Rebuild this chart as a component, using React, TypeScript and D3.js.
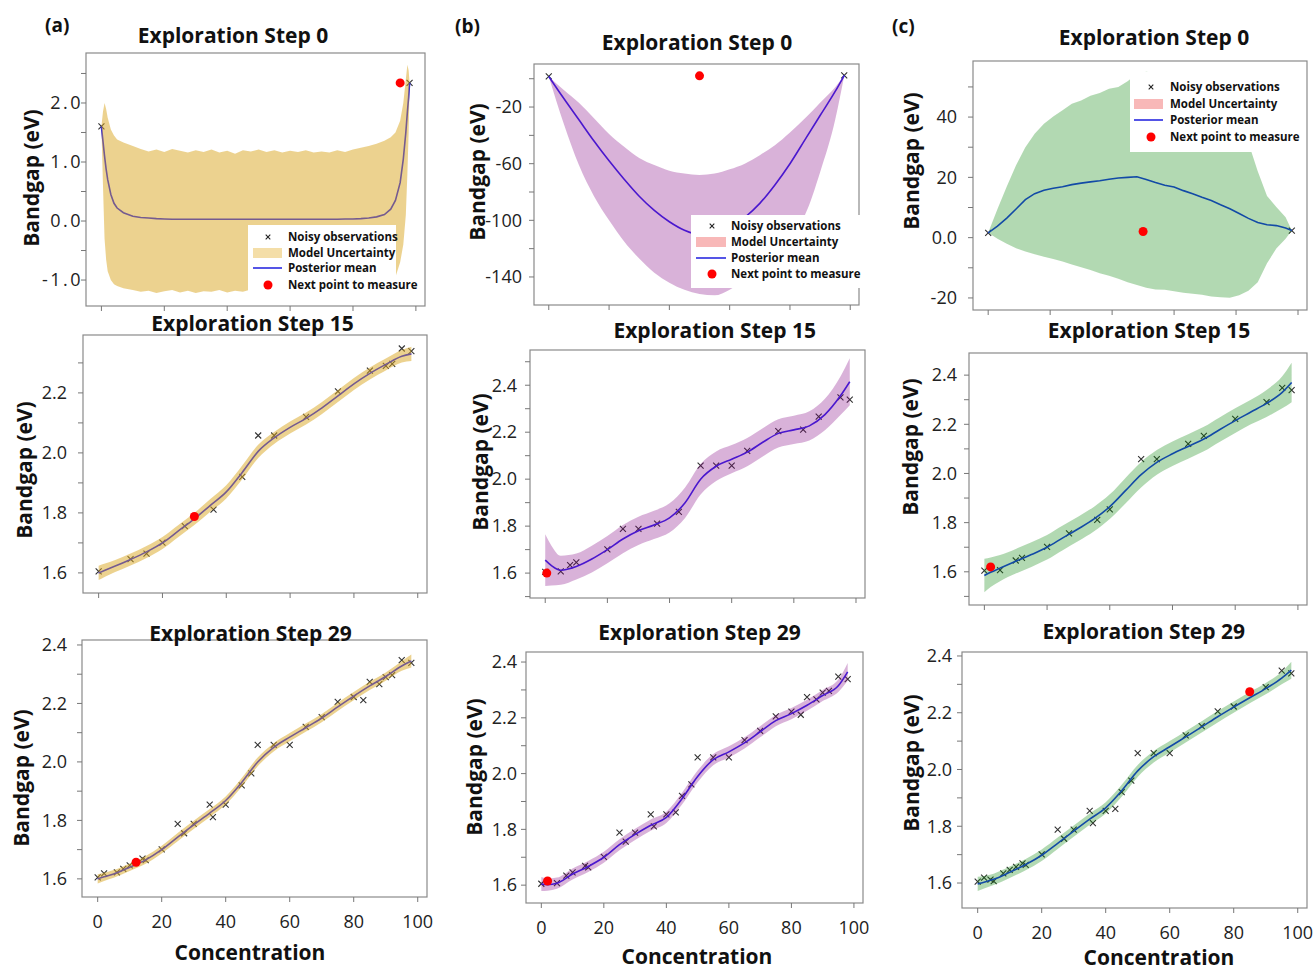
import React from "react";
import * as d3 from "d3";

// ---- measured bandgap data (concentration, eV) ----
const obsConc = [0, 2, 4, 5, 6, 8, 10, 12, 14, 15, 20, 25, 27, 30, 35, 36, 40, 43, 45, 48, 50, 55, 60, 65, 70, 75, 80, 83, 85, 88, 90, 92, 95, 98];
const obsGap = [1.605, 1.619, 1.612, 1.607, 1.622, 1.634, 1.646, 1.657, 1.669, 1.664, 1.701, 1.788, 1.756, 1.788, 1.854, 1.811, 1.854, 1.861, 1.92, 1.961, 2.058, 2.058, 2.058, 2.12, 2.153, 2.205, 2.222, 2.211, 2.274, 2.266, 2.29, 2.297, 2.348, 2.339];

// concentrations already measured at each step
const sampledA0 = [0, 98];
const sampledA15 = [0, 10, 15, 20, 27, 36, 45, 50, 55, 65, 75, 85, 90, 92, 95, 98];
const sampledA29 = [0, 2, 6, 8, 10, 14, 15, 20, 25, 27, 30, 35, 36, 40, 45, 48, 50, 55, 60, 65, 70, 75, 80, 83, 85, 88, 90, 92, 95, 98];
const sampledB0 = [0, 98];
const sampledB15 = [0, 5, 8, 10, 20, 25, 30, 36, 43, 50, 55, 60, 65, 75, 83, 88, 95, 98];
const sampledB29 = [0, 5, 8, 10, 14, 15, 20, 25, 27, 30, 35, 36, 40, 43, 45, 48, 50, 55, 60, 65, 70, 75, 80, 83, 85, 88, 90, 92, 95, 98];
const sampledC0 = [0, 98];
const sampledC15 = [0, 5, 10, 12, 20, 27, 36, 40, 50, 55, 65, 70, 80, 90, 95, 98];
const sampledC29 = [0, 2, 4, 5, 8, 10, 12, 14, 15, 20, 25, 27, 30, 35, 36, 40, 43, 45, 48, 50, 55, 60, 65, 70, 75, 80, 90, 95, 98];

// next point to measure [concentration, bandgap]
const nextA0 = [95, 2.34];
const nextA15 = [30, 1.788];
const nextA29 = [12, 1.657];
const nextB0 = [50, 2.058];
const nextB15 = [0.5, 1.6];
const nextB29 = [2, 1.615];
const nextC0 = [50, 2.058];
const nextC15 = [2, 1.62];
const nextC29 = [85, 2.274];

// posterior grid used in steps 15 / 29
const gridFine = [0, 2, 5, 10, 15, 20, 25, 30, 35, 40, 45, 50, 55, 60, 65, 70, 75, 80, 85, 90, 95, 98];

const meanA15 = [1.6, 1.609, 1.622, 1.645, 1.67, 1.7, 1.74, 1.78, 1.825, 1.87, 1.935, 2.005, 2.05, 2.085, 2.115, 2.15, 2.19, 2.23, 2.265, 2.295, 2.322, 2.33];
const sdA15 = [0.024, 0.022, 0.02, 0.02, 0.02, 0.02, 0.02, 0.02, 0.021, 0.022, 0.023, 0.022, 0.02, 0.02, 0.02, 0.02, 0.02, 0.02, 0.02, 0.02, 0.021, 0.024];
const meanA29 = [1.6, 1.607, 1.617, 1.64, 1.665, 1.7, 1.743, 1.785, 1.825, 1.868, 1.93, 2.0, 2.05, 2.085, 2.117, 2.15, 2.188, 2.225, 2.26, 2.292, 2.328, 2.345];
const sdA29 = [0.016, 0.014, 0.013, 0.013, 0.013, 0.013, 0.014, 0.014, 0.014, 0.014, 0.015, 0.015, 0.014, 0.014, 0.014, 0.014, 0.014, 0.014, 0.014, 0.014, 0.016, 0.022];

const meanB15 = [1.655, 1.632, 1.612, 1.628, 1.66, 1.7, 1.745, 1.78, 1.805, 1.835, 1.9, 2.0, 2.055, 2.085, 2.115, 2.157, 2.195, 2.21, 2.227, 2.275, 2.355, 2.415];
const sdB15 = [0.11, 0.085, 0.062, 0.055, 0.057, 0.058, 0.06, 0.06, 0.06, 0.062, 0.065, 0.065, 0.063, 0.06, 0.06, 0.06, 0.06, 0.06, 0.062, 0.067, 0.082, 0.1];
const meanB29 = [1.604, 1.602, 1.607, 1.64, 1.667, 1.7, 1.745, 1.782, 1.815, 1.843, 1.91, 1.99, 2.05, 2.078, 2.11, 2.15, 2.19, 2.215, 2.245, 2.28, 2.315, 2.365];
const sdB29 = [0.025, 0.022, 0.02, 0.02, 0.02, 0.02, 0.02, 0.02, 0.02, 0.02, 0.021, 0.021, 0.02, 0.02, 0.02, 0.02, 0.02, 0.02, 0.02, 0.02, 0.022, 0.032];

const meanC15 = [1.585, 1.598, 1.615, 1.643, 1.67, 1.7, 1.738, 1.775, 1.815, 1.865, 1.93, 1.995, 2.045, 2.08, 2.11, 2.14, 2.178, 2.215, 2.25, 2.285, 2.33, 2.37];
const sdC15 = [0.068, 0.06, 0.053, 0.05, 0.05, 0.05, 0.05, 0.05, 0.05, 0.05, 0.052, 0.052, 0.05, 0.05, 0.05, 0.05, 0.05, 0.05, 0.05, 0.055, 0.065, 0.08];
const meanC29 = [1.597, 1.603, 1.613, 1.638, 1.665, 1.698, 1.74, 1.783, 1.825, 1.865, 1.925, 1.995, 2.045, 2.08, 2.115, 2.15, 2.186, 2.22, 2.253, 2.285, 2.322, 2.35];
const sdC29 = [0.025, 0.022, 0.02, 0.02, 0.02, 0.02, 0.02, 0.02, 0.02, 0.02, 0.021, 0.021, 0.02, 0.02, 0.02, 0.02, 0.02, 0.02, 0.02, 0.02, 0.022, 0.03];

// step 0 posteriors (explicit bounds)
const gridA0 = [0, 0.5, 1, 1.5, 2, 3, 4, 5, 7, 10, 12.5, 15, 17.5, 20, 22.5, 25, 27.5, 30, 32.5, 35, 37.5, 40, 42.5, 45, 47.5, 50, 52.5, 55, 57.5, 60, 62.5, 65, 67.5, 70, 72.5, 75, 77.5, 80, 82.5, 85, 87.5, 90, 92, 93.5, 95, 96, 96.8, 97.3, 97.7, 98];
const meanA0 = [1.6, 1.35, 1.1, 0.88, 0.7, 0.45, 0.3, 0.22, 0.14, 0.08,
  0.06, 0.05, 0.04, 0.035, 0.03, 0.03, 0.03, 0.03, 0.03, 0.03, 0.03, 0.03, 0.03, 0.03, 0.03, 0.03, 0.03, 0.03, 0.03, 0.03, 0.03, 0.03, 0.03, 0.03, 0.03, 0.03, 0.035, 0.035, 0.04, 0.05, 0.07, 0.11,
  0.2, 0.35, 0.65, 1.05, 1.5, 1.85, 2.1, 2.34];
const upperA0 = [1.6, 1.85, 2.0, 1.9, 1.75, 1.55, 1.45, 1.38, 1.33, 1.27,
  1.22, 1.18, 1.21, 1.17, 1.22, 1.19, 1.16, 1.2, 1.17, 1.21, 1.16, 1.19, 1.14, 1.2, 1.18, 1.21, 1.17, 1.2, 1.16, 1.19, 1.17, 1.2, 1.16, 1.18, 1.16, 1.2, 1.17, 1.21, 1.24, 1.27, 1.31, 1.36,
  1.42, 1.5, 1.7, 2.0, 2.4, 2.65, 2.55, 2.34];
const lowerA0 = [1.6, 0.6, -0.3, -0.65, -0.85, -1.0, -1.07, -1.1, -1.14, -1.17,
  -1.2, -1.18, -1.22, -1.19, -1.17, -1.21, -1.18, -1.22, -1.19, -1.2, -1.17, -1.21, -1.18, -1.2, -1.16, -1.19, -1.21, -1.18, -1.2, -1.17, -1.21, -1.19, -1.18, -1.2, -1.17, -1.19, -1.2, -1.18, -1.17, -1.18, -1.16, -1.15,
  -1.1, -0.95, -0.7, -0.4, 0.1, 0.8, 1.5, 2.34];

const gridB0 = [0, 5, 10, 15, 20, 25, 30, 35, 40, 45, 50, 55, 60, 65, 70, 75, 80, 85, 90, 95, 98];
const meanB0 = [1.6, -14, -29, -44, -58, -71, -83, -93, -101, -107, -110, -110, -106, -98, -88, -75, -60, -43, -26, -9, 2.34];
const upperB0 = [1.6, -8, -17, -28, -39, -48, -56, -61, -65, -67, -68, -67, -64, -60, -54, -47, -38, -28, -17, -6, 2.34];
const lowerB0 = [1.6, -32, -61, -83, -100, -115, -127, -137, -144, -149, -152, -153, -149, -142, -133, -122, -110, -96, -66, -29, 2.34];

const gridC0 = [0, 3, 6, 9, 12, 15, 18, 21, 24, 27, 30, 33, 36, 39, 42, 45, 48, 51, 54, 57, 60, 63, 66, 69, 72, 75, 78, 81, 84, 87, 90, 93, 96, 98];
const meanC0 = [1.6, 3.8, 6.5, 9.5, 12.6, 14.6, 15.7, 16.4, 16.9, 17.6, 18.1, 18.5, 18.9, 19.4, 19.8, 20.0, 20.2, 19.3, 18.3, 17.4, 16.8, 15.6, 14.6, 13.4, 12.3, 10.9, 9.6, 8.0, 6.4, 5.0, 4.3, 4.0, 3.2, 2.34];
const upperC0 = [1.6, 9.5, 17, 24, 30, 34.5, 37.8, 40.2, 42.3, 44.4, 45.5, 47.1, 48.0, 49.4, 50.0, 51.9, 54.4, 55, 54.6, 54.2, 53.5, 52.3, 50.8, 48.9, 46.5, 43.8, 40.6, 36.5, 31.5, 22, 13.8, 10.2, 6.8, 2.34];
const lowerC0 = [1.6, -0.4, -2, -3.5, -4.6, -5.5, -6.3, -7.1, -7.9, -8.9, -9.8, -10.7, -11.8, -12.6, -13.6, -14.8, -15.7, -16.6, -17.2, -17.3, -17.8, -18.3, -18.6, -18.9, -19.5, -19.8, -19.9, -19.1, -17.6, -14.8, -8.5, -3.6, -0.4, 2.34];

// axis ticks
const xTicks = [0, 20, 40, 60, 80, 100];
const ticksA0 = [-1, -0.5, 0, 0.5, 1, 1.5, 2, 2.5];
const labelsA0 = [-1, 0, 1, 2];
const ticksB0 = [-140, -120, -100, -80, -60, -40, -20, 0];
const labelsB0 = [-140, -100, -60, -20];
const ticksC0 = [-20, -10, 0, 10, 20, 30, 40, 50];
const labelsC0 = [-20, 0, 20, 40];
const ticksGap = [1.5, 1.6, 1.7, 1.8, 1.9, 2.0, 2.1, 2.2, 2.3, 2.4, 2.5];
const labelsGap = [1.6, 1.8, 2.0, 2.2, 2.4];

const legendLabels = ["Noisy observations", "Model Uncertainty", "Posterior mean", "Next point to measure"];
const FONT = "'Open Sans', 'DejaVu Sans', sans-serif";

const f1 = (v: number) => v.toFixed(1);
const fInt = (v: number) => String(v);
const fC0 = (v: number) => (v === 0 ? "0.0" : String(v));

const withSd = (mean: number[], sd: number[]) => ({
  lower: mean.map((m, i) => m - sd[i]),
  upper: mean.map((m, i) => m + sd[i]),
});

const bandA = { color: "#DAA520", opacity: 0.5, line: "#1010ff" };
const bandB = { color: "#800080", opacity: 0.3, line: "#3322f0" };
const bandC = { color: "#008000", opacity: 0.3, line: "#1a33ee" };

const panels = [
  { id: "a0", title: "Exploration Step 0", frame: { x: 86, y: 53, w: 339, h: 253 }, yDomain: [-1.44, 2.847], ticks: ticksA0, labels: labelsA0, fmt: f1, gap: 3, spacing: 2.5,
    titlePos: [233, 43], ylab: [32, 178], grid: gridA0, mean: meanA0, lower: lowerA0, upper: upperA0, curve: d3.curveLinear,
    sampled: sampledA0, next: nextA0, band: bandA, legend: { x: 248, y: 225, w: 148, h: 72, mx: 268, sx: 253, sw: 29, tx: 288, rows: [237, 253, 268, 285], swatch: "#F4DEA8" } },
  { id: "a15", title: "Exploration Step 15", frame: { x: 83, y: 335, w: 344, h: 258 }, yDomain: [1.533, 2.393], ticks: ticksGap.slice(1, 9), labels: labelsGap.slice(0, 4), fmt: f1, gap: 16, spacing: 0,
    titlePos: [252.5, 331], ylab: [25, 470], grid: gridFine, mean: meanA15, ...withSd(meanA15, sdA15), curve: d3.curveMonotoneX,
    sampled: sampledA15, next: nextA15, band: bandA },
  { id: "a29", title: "Exploration Step 29", frame: { x: 82, y: 640, w: 345, h: 257 }, yDomain: [1.538, 2.417], ticks: ticksGap.slice(1, 10), labels: labelsGap, fmt: f1, gap: 15, spacing: 0,
    titlePos: [250.5, 641], ylab: [22, 778], grid: gridFine, mean: meanA29, ...withSd(meanA29, sdA29), curve: d3.curveMonotoneX,
    sampled: sampledA29, next: nextA29, band: bandA, xlab: [250, 953] },
  { id: "b0", title: "Exploration Step 0", frame: { x: 534, y: 64, w: 325, h: 241 }, yDomain: [-159.8, 10.4], ticks: ticksB0, labels: labelsB0, fmt: fInt, gap: 12, spacing: 0,
    titlePos: [697, 50], ylab: [478, 172], grid: gridB0, mean: meanB0, lower: lowerB0, upper: upperB0, curve: d3.curveMonotoneX,
    sampled: sampledB0, next: nextB0, band: bandB, legend: { x: 691, y: 215, w: 170, h: 73, mx: 712, sx: 696, sw: 30, tx: 731, rows: [226, 242, 258, 274], swatch: "#F8B8B8" } },
  { id: "b15", title: "Exploration Step 15", frame: { x: 530, y: 350, w: 335, h: 248 }, yDomain: [1.494, 2.55], ticks: ticksGap, labels: labelsGap, fmt: f1, gap: 13, spacing: 0,
    titlePos: [714.7, 338], ylab: [481, 462], grid: gridFine, mean: meanB15, ...withSd(meanB15, sdB15), curve: d3.curveMonotoneX,
    sampled: sampledB15, next: nextB15, band: bandB },
  { id: "b29", title: "Exploration Step 29", frame: { x: 526, y: 652, w: 337, h: 251 }, yDomain: [1.536, 2.436], ticks: ticksGap.slice(1, 10), labels: labelsGap, fmt: f1, gap: 9, spacing: 0,
    titlePos: [699.5, 639.5], ylab: [475, 767], grid: gridFine, mean: meanB29, ...withSd(meanB29, sdB29), curve: d3.curveMonotoneX,
    sampled: sampledB29, next: nextB29, band: bandB, xlab: [697, 957] },
  { id: "c0", title: "Exploration Step 0", frame: { x: 973, y: 61, w: 334, h: 249 }, yDomain: [-24, 58.6], ticks: ticksC0, labels: labelsC0, fmt: fC0, gap: 16, spacing: 0,
    titlePos: [1154, 45], ylab: [912, 161], grid: gridC0, mean: meanC0, lower: lowerC0, upper: upperC0, curve: d3.curveLinear,
    sampled: sampledC0, next: nextC0, band: bandC, legend: { x: 1130, y: 72, w: 175, h: 80, mx: 1151, sx: 1134, sw: 29, tx: 1170, rows: [87, 104, 120, 137], swatch: "#F8B8B8" } },
  { id: "c15", title: "Exploration Step 15", frame: { x: 969, y: 353, w: 338, h: 252 }, yDomain: [1.465, 2.49], ticks: ticksGap.slice(0, 10), labels: labelsGap, fmt: f1, gap: 12, spacing: 0,
    titlePos: [1149, 337.5], ylab: [911, 447], grid: gridFine, mean: meanC15, ...withSd(meanC15, sdC15), curve: d3.curveMonotoneX,
    sampled: sampledC15, next: nextC15, band: bandC },
  { id: "c29", title: "Exploration Step 29", frame: { x: 962, y: 652, w: 345, h: 256 }, yDomain: [1.512, 2.414], ticks: ticksGap.slice(1, 10), labels: labelsGap, fmt: f1, gap: 10, spacing: 0,
    titlePos: [1143.7, 638.5], ylab: [912, 763], grid: gridFine, mean: meanC29, ...withSd(meanC29, sdC29), curve: d3.curveMonotoneX,
    sampled: sampledC29, next: nextC29, band: bandC, xlab: [1159, 958] },
];

const xMark = (cx: number, cy: number, s: number) =>
  `M${cx - s},${cy - s}L${cx + s},${cy + s}M${cx - s},${cy + s}L${cx + s},${cy - s}`;

function Legend({ L }: { L: any }) {
  return (
    <g fontFamily={FONT} fontWeight="bold" fontSize={11.5} fill="#111">
      <rect x={L.x} y={L.y} width={L.w} height={L.h} fill="#fff" />
      <path d={xMark(L.mx, L.rows[0], 2.3)} stroke="#222" strokeWidth={1.1} />
      <rect x={L.sx} y={L.rows[1] - 5} width={L.sw} height={10} fill={L.swatch} />
      <line x1={L.sx} x2={L.sx + L.sw} y1={L.rows[2]} y2={L.rows[2]} stroke="#2a2ae0" strokeWidth={1.6} />
      <circle cx={L.mx} cy={L.rows[3]} r={4.5} fill="#ff0000" />
      {legendLabels.map((t, i) => (
        <text key={t} x={L.tx} y={L.rows[i]} dy="0.36em">{t}</text>
      ))}
    </g>
  );
}

function Panel({ p }: { p: any }) {
  const f = p.frame;
  const x = d3.scaleLinear().domain([-4.9, 102.9]).range([f.x, f.x + f.w]);
  const y = d3.scaleLinear().domain(p.yDomain).range([f.y + f.h, f.y]);
  const rows = p.grid.map((c: number, i: number) => ({ c, m: p.mean[i], lo: p.lower[i], hi: p.upper[i] }));
  const area = d3.area<any>().x((d) => x(d.c)).y0((d) => y(d.lo)).y1((d) => y(d.hi)).curve(p.curve);
  const line = d3.line<any>().x((d) => x(d.c)).y((d) => y(d.m)).curve(p.curve);
  const obs = p.sampled.map((c: number) => [c, obsGap[obsConc.indexOf(c)]]);
  const bottom = f.y + f.h;
  const clip = `clip-${p.id}`;

  return (
    <g>
      <defs>
        <clipPath id={clip}>
          <rect x={f.x} y={f.y} width={f.w} height={f.h} />
        </clipPath>
      </defs>
      <g clipPath={`url(#${clip})`}>
        {obs.map((d: number[], i: number) => (
          <path key={i} d={xMark(x(d[0]), y(d[1]), 3)} stroke="#333" strokeWidth={1.1} fill="none" />
        ))}
        <path d={line(rows) || ""} fill="none" stroke={p.band.line} strokeWidth={1.6} />
        <path d={area(rows) || ""} fill={p.band.color} fillOpacity={p.band.opacity} />
      </g>
      <rect x={f.x} y={f.y} width={f.w} height={f.h} fill="none" stroke="#8a8a8a" strokeWidth={1.2} />
      {/* x ticks */}
      {xTicks.map((t) => (
        <line key={t} x1={x(t)} x2={x(t)} y1={bottom} y2={bottom + 5} stroke="#777" strokeWidth={1} />
      ))}
      {p.xlab &&
        xTicks.map((t) => (
          <text key={t} x={x(t)} y={bottom + 25} dy="0.35em" textAnchor="middle" fontFamily={FONT} fontSize={18} fill="#222">
            {t}
          </text>
        ))}
      {/* y ticks */}
      {p.ticks.map((t: number) => (
        <line key={t} x1={f.x - 5} x2={f.x} y1={y(t)} y2={y(t)} stroke="#777" strokeWidth={1} />
      ))}
      {p.labels.map((t: number) => (
        <text key={t} x={f.x - p.gap} y={y(t)} dy="0.35em" textAnchor="end" fontFamily={FONT} fontSize={18} fill="#222" letterSpacing={p.spacing}>
          {p.fmt(t)}
        </text>
      ))}
      <text x={p.titlePos[0]} y={p.titlePos[1]} textAnchor="middle" fontFamily={FONT} fontWeight="bold" fontSize={21} fill="#111">
        {p.title}
      </text>
      <text transform={`translate(${p.ylab[0]},${p.ylab[1]}) rotate(-90)`} dy="0.35em" textAnchor="middle" fontFamily={FONT} fontWeight="bold" fontSize={21} fill="#111">
        Bandgap (eV)
      </text>
      {p.xlab && (
        <text x={p.xlab[0]} y={p.xlab[1]} dy="0.35em" textAnchor="middle" fontFamily={FONT} fontWeight="bold" fontSize={21} fill="#111">
          Concentration
        </text>
      )}
      {p.legend && <Legend L={p.legend} />}
      <circle cx={x(p.next[0])} cy={y(p.next[1])} r={4.5} fill="#ff0000" />
    </g>
  );
}

export default function App() {
  return (
    <svg width={1313} height={973} style={{ position: "absolute", left: 0, top: 0, display: "block" }}>
      <rect width={1313} height={973} fill="#fff" />
      {panels.map((p) => (
        <Panel key={p.id} p={p} />
      ))}
      <g fontFamily={FONT} fontWeight="bold" fontSize={19} fill="#111">
        <text x={45} y={32}>(a)</text>
        <text x={455} y={33}>(b)</text>
        <text x={892} y={33}>(c)</text>
      </g>
    </svg>
  );
}
